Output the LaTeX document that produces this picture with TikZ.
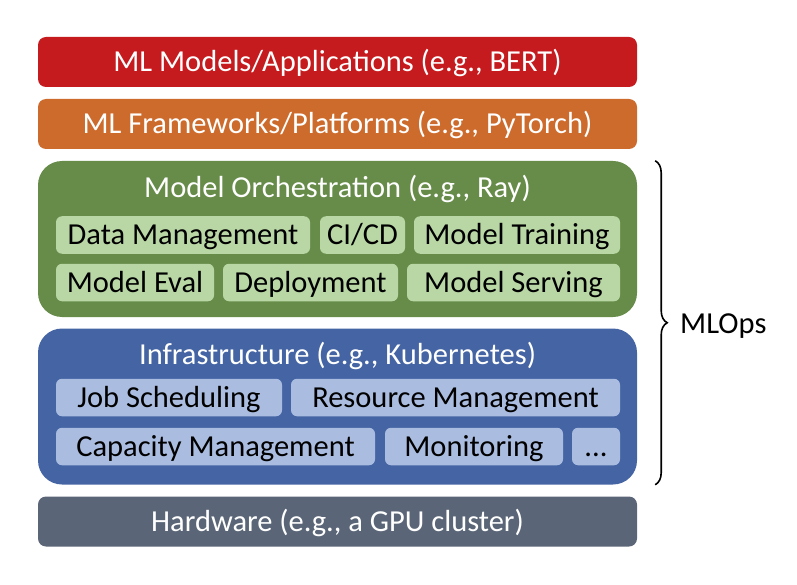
\documentclass[tikz,border=0pt]{standalone}
\usepackage{fontspec}
\setmainfont{Carlito}
\usetikzlibrary{decorations.pathreplacing}
\definecolor{cred}{HTML}{C51B1E}
\definecolor{corange}{HTML}{CD6B2C}
\definecolor{cgreen}{HTML}{678C49}
\definecolor{clgreen}{HTML}{B9D7A5}
\definecolor{cblue}{HTML}{4564A3}
\definecolor{clblue}{HTML}{AABDE1}
\definecolor{cgray}{HTML}{5A6677}
\tikzset{
  txt/.style={font=\fontsize{30.5}{35}\selectfont, text height=19.6pt, text depth=0pt},
  layer/.style={txt, fill=#1, rounded corners=8pt, text=white, minimum width=599pt, minimum height=50pt, inner sep=0pt},
  biglayer/.style={fill=#1, rounded corners=24pt, minimum width=599pt, minimum height=156pt, inner sep=0pt},
  ttl/.style={txt, text=white, inner sep=0pt},
  sub/.style={txt, fill=#1, rounded corners=6pt, text=black, minimum height=37.5pt, inner sep=0pt},
}
\begin{document}
\begin{tikzpicture}[x=1pt,y=-1pt]
\useasboundingbox (0,0) rectangle (797,585);
\node[layer=cred] (app) at (337.5,62) {ML Models/Applications (e.g., BERT)};
\node[layer=corange] (fw) at (337.5,124) {ML Frameworks/Platforms (e.g., PyTorch)};
\node[biglayer=cgreen] (orch) at (337.5,239) {};
\node[ttl] (orcht) at (337.5,188) {Model Orchestration (e.g., Ray)};
\node[sub=clgreen, minimum width=254pt] (dm) at (183,235) {Data Management};
\node[sub=clgreen, minimum width=85pt] (ci) at (362.5,235) {CI/CD};
\node[sub=clgreen, minimum width=206pt] (mt) at (517,235) {Model Training};
\node[sub=clgreen, minimum width=158pt] (me) at (135,282.5) {Model Eval};
\node[sub=clgreen, minimum width=175pt] (dep) at (310.5,282.5) {Deployment};
\node[sub=clgreen, minimum width=213pt] (ms) at (513.5,282.5) {Model Serving};
\node[biglayer=cblue] (infra) at (337.5,406.5) {};
\node[ttl] (infrat) at (337.5,355) {Infrastructure (e.g., Kubernetes)};
\node[sub=clblue, minimum width=226pt] (js) at (169,397.5) {Job Scheduling};
\node[sub=clblue, minimum width=329pt] (rm) at (455.5,397.5) {Resource Management};
\node[sub=clblue, minimum width=319pt] (cm) at (215.5,446.5) {Capacity Management};
\node[sub=clblue, minimum width=178pt] (mon) at (474,446.5) {Monitoring};
\node[sub=clblue, minimum width=48pt] (dots) at (596,446.5) {...};
\node[layer=cgray] (hw) at (337.5,521.5) {Hardware (e.g., a GPU cluster)};
\coordinate (bt) at ([xshift=18pt]orch.north east);
\coordinate (bb) at ([xshift=18pt]infra.south east);
\draw[line width=1.6pt, decorate, decoration={brace, amplitude=12pt}] (bt) -- (bb);
\node[txt, anchor=west, inner sep=0pt] (mlops) at (680,324) {MLOps};
\end{tikzpicture}
\end{document}
